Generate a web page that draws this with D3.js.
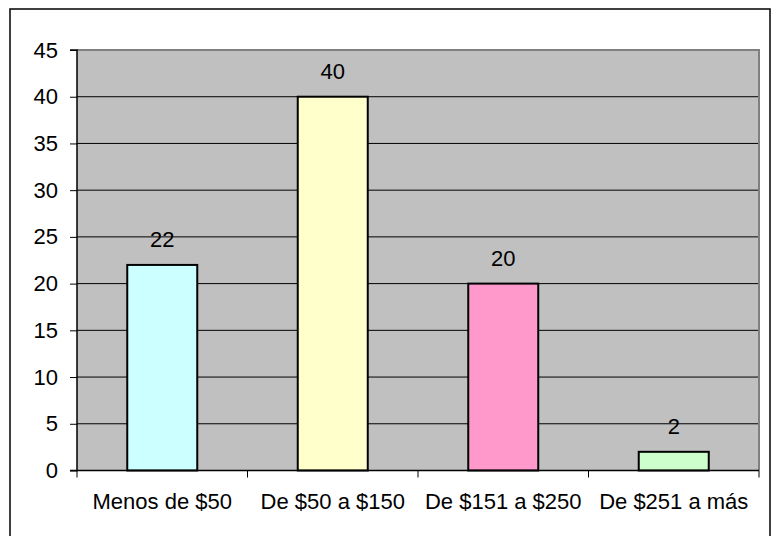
<!DOCTYPE html>
<html><head><meta charset="utf-8">
<script src="https://cdn.jsdelivr.net/npm/d3@7"></script>
<style>body{margin:0;background:#fff}svg{display:block}text{font-family:"Liberation Sans",Arial,sans-serif}</style>
</head><body><svg id="c" width="771" height="536"></svg>
<script>
const categories = ["Menos de $50", "De $50 a $150", "De $151 a $250", "De $251 a más"];
const values = [22, 40, 20, 2];
const colors = ["#CCFFFF", "#FFFFCC", "#FF99CC", "#CCFFCC"];
const yTicks = [0, 5, 10, 15, 20, 25, 30, 35, 40, 45];

const svg = d3.select("#c");
const L = 77, T = 50, R = 759, B = 470.5;
const FS = 22;

svg.append("rect").attr("x", 10).attr("y", 9).attr("width", 760).attr("height", 540)
  .attr("fill", "#fff").attr("stroke", "#000").attr("stroke-width", 1.5);

const x = d3.scaleBand().domain(categories).range([L, R]).paddingInner(0).paddingOuter(0);
const y = d3.scaleLinear().domain([0, 45]).range([B, T]);

svg.append("rect").attr("x", L).attr("y", T).attr("width", R - L).attr("height", B - T).attr("fill", "#c0c0c0");

// gridlines
svg.append("g").selectAll("line").data(yTicks.filter(d => d > 0 && d < 45)).join("line")
  .attr("x1", L).attr("x2", R).attr("y1", d => y(d)).attr("y2", d => y(d))
  .attr("stroke", "#000").attr("stroke-width", 1);

// plot border top/right
svg.append("path").attr("d", `M${L},${T}H${R}V${B}`).attr("fill", "none").attr("stroke", "#808080").attr("stroke-width", 2);

// bars
const bw = 70;
svg.append("g").selectAll("rect").data(values).join("rect")
  .attr("x", (d, i) => x(categories[i]) + x.bandwidth() / 2 - bw / 2)
  .attr("y", d => y(d)).attr("width", bw).attr("height", d => B - y(d))
  .attr("fill", (d, i) => colors[i]).attr("stroke", "#000").attr("stroke-width", 2);

// value labels
svg.append("g").selectAll("text").data(values).join("text")
  .attr("x", (d, i) => x(categories[i]) + x.bandwidth() / 2)
  .attr("y", d => y(d) - 18).attr("text-anchor", "middle").attr("font-size", FS).attr("fill", "#000")
  .text(d => d);

// y axis
const yAxis = d3.axisLeft(y).tickValues(yTicks).tickSize(7).tickPadding(12);
const gy = svg.append("g").attr("transform", `translate(${L},0)`).call(yAxis);
gy.attr("font-size", FS).attr("font-family", "Liberation Sans, Arial, sans-serif");
gy.select(".domain").attr("stroke", "#000").attr("stroke-width", 1.5).attr("d", `M-7,${T}H0V${B}H-7`);
gy.selectAll(".tick line").attr("stroke", "#000");
gy.selectAll(".tick text").attr("font-size", FS).attr("fill", "#000");

// x axis
const gx = svg.append("g");
gx.append("line").attr("x1", L).attr("x2", R).attr("y1", B).attr("y2", B).attr("stroke", "#000").attr("stroke-width", 1.5);
const bounds = categories.map(c => x(c)).concat([R]);
gx.selectAll("line.t").data(bounds).join("line").attr("class", "t")
  .attr("x1", d => d).attr("x2", d => d).attr("y1", B).attr("y2", B + 7).attr("stroke", "#000");
gx.selectAll("text").data(categories).join("text")
  .attr("x", d => x(d) + x.bandwidth() / 2).attr("y", 509)
  .attr("text-anchor", "middle").attr("font-size", FS).attr("fill", "#000").text(d => d);
</script></body></html>
